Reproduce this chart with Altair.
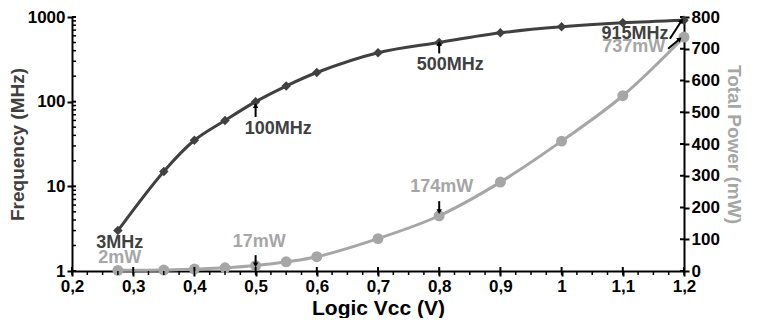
import altair as alt
import pandas as pd

# ---- data ----
vcc = [0.275, 0.35, 0.4, 0.45, 0.5, 0.55, 0.6, 0.7, 0.8, 0.9, 1.0, 1.1, 1.2]
freq_mhz = [3, 15, 35, 60, 100, 153, 221, 378, 500, 650, 766, 853, 915]
power_mw = [2, 3, 6, 10, 17, 29, 45, 102, 174, 280, 409, 552, 737]

freq_labels = ["3MHz", "100MHz", "500MHz", "915MHz"]
freq_label_x = [0.278, 0.537, 0.818, 1.12]
freq_label_y = [2.12, 48, 270, 628]

power_labels = ["2mW", "17mW", "174mW", "737mW"]
power_label_x = [0.278, 0.506, 0.804, 1.118]
power_label_y = [40, 92, 265, 706]

# arrows: tail (x, y) -> tip (x2, y2)
freq_arrow_x = [0.5, 0.8, 1.177]
freq_arrow_y = [66, 371, 553]
freq_arrow_x2 = [0.5, 0.8, 1.196]
freq_arrow_y2 = [89.5, 487, 902]
freq_arrow_angle = [0, 0, 34]

power_arrow_x = [0.5, 0.8, 1.174]
power_arrow_y = [50, 220, 700]
power_arrow_x2 = [0.5, 0.8, 1.193]
power_arrow_y2 = [19, 187, 731]
power_arrow_angle = [180, 180, 50]

x_major = [round(0.2 + 0.1 * i, 1) for i in range(11)]
x_minor = [0.2 + 0.025 * i for i in range(41)]
f_major = [1, 10, 100, 1000]
y_minor = [m * d for d in (1, 10, 100) for m in range(2, 10)]
p_major = list(range(0, 801, 100))

DARK = "#404040"
GRAY = "#a6a6a6"
FONT = "Liberation Sans"
W, H = 612, 254

df = pd.DataFrame({"v": vcc, "f": freq_mhz, "p": power_mw})
df_fl = pd.DataFrame({"t": freq_labels, "v": freq_label_x, "f": freq_label_y})
df_pl = pd.DataFrame({"t": power_labels, "v": power_label_x, "p": power_label_y})
df_fa = pd.DataFrame({"v": freq_arrow_x, "f": freq_arrow_y, "v2": freq_arrow_x2,
                      "f2": freq_arrow_y2, "a": freq_arrow_angle})
df_pa = pd.DataFrame({"v": power_arrow_x, "p": power_arrow_y, "v2": power_arrow_x2,
                      "p2": power_arrow_y2, "a": power_arrow_angle})
df_xm = pd.DataFrame({"v": x_minor})
df_xM = pd.DataFrame({"v": x_major})
df_ym = pd.DataFrame({"f": y_minor})
df_yM = pd.DataFrame({"f": f_major})
df_pM = pd.DataFrame({"p": p_major})

x_scale = alt.Scale(domain=[0.2, 1.2], nice=False, zero=False)
x_axis = alt.Axis(title="Logic Vcc (V)", values=x_major,
                  labelExpr="replace(toString(round(datum.value*10)/10), '.', ',')",
                  titleColor="black", titlePadding=3, titleFontSize=21, grid=False,
                  labelFlush=False)
f_scale = alt.Scale(type="log", domain=[1, 1000], nice=False)
f_axis = alt.Axis(title="Frequency (MHz)", values=f_major, format="d",
                  titleColor=DARK, orient="left", titlePadding=0, grid=False, labelFlush=False)
p_scale = alt.Scale(domain=[0, 800], nice=False, zero=True)
p_axis = alt.Axis(title="Total Power (mW)", values=p_major,
                  titleColor=GRAY, orient="right", titleAngle=90, titlePadding=4, grid=False,
                  labelFlush=False)


def X(field="v"):
    return alt.X(f"{field}:Q", scale=x_scale, axis=x_axis)


def YF(field="f"):
    return alt.Y(f"{field}:Q", scale=f_scale, axis=f_axis)


def YP(field="p"):
    return alt.Y(f"{field}:Q", scale=p_scale, axis=p_axis)


# frequency layers
f_line = alt.Chart(df).mark_line(color=DARK, strokeWidth=3, interpolate="catmull-rom").encode(x=X(), y=YF())
f_pts = alt.Chart(df).mark_point(shape="diamond", filled=True, size=90, color=DARK, opacity=1).encode(x=X(), y=YF())
f_txt = alt.Chart(df_fl).mark_text(font=FONT, fontWeight="bold", fontSize=18, color=DARK,
                                   baseline="middle", align="center").encode(x=X(), y=YF(), text="t:N")
f_ar = alt.Chart(df_fa).mark_rule(color="black", strokeWidth=2).encode(
    x=X(), y=YF(), x2=alt.X2("v2:Q"), y2=alt.Y2("f2:Q"))
f_head = alt.Chart(df_fa).mark_point(shape="triangle-up", filled=True, size=30, color="black", opacity=1).encode(
    x=X("v2"), y=YF("f2"), angle=alt.Angle("a:Q", scale=None))
x_min = alt.Chart(df_xm).mark_rule(color="black", strokeWidth=1.5).encode(
    x=X(), y=alt.value(H), y2=alt.value(H + 4))
x_maj_in = alt.Chart(df_xM).mark_rule(color="black", strokeWidth=2).encode(
    x=X(), y=alt.value(H - 4), y2=alt.value(H))
y_min = alt.Chart(df_ym).mark_rule(color="black", strokeWidth=1.5).encode(
    y=YF(), x=alt.value(0), x2=alt.value(4))
y_maj_in = alt.Chart(df_yM).mark_rule(color="black", strokeWidth=2).encode(
    y=YF(), x=alt.value(0), x2=alt.value(4))

freq = alt.layer(x_min, x_maj_in, y_min, y_maj_in, f_line, f_pts, f_ar, f_head, f_txt)

# power layers
p_line = alt.Chart(df).mark_line(color=GRAY, strokeWidth=3, interpolate="catmull-rom").encode(x=X(), y=YP())
p_pts = alt.Chart(df).mark_circle(size=120, color=GRAY, opacity=1).encode(x=X(), y=YP())
p_txt = alt.Chart(df_pl).mark_text(font=FONT, fontWeight="bold", fontSize=18, color=GRAY,
                                   baseline="middle", align="center").encode(x=X(), y=YP(), text="t:N")
p_ar = alt.Chart(df_pa).mark_rule(color="black", strokeWidth=2).encode(
    x=X(), y=YP(), x2=alt.X2("v2:Q"), y2=alt.Y2("p2:Q"))
p_head = alt.Chart(df_pa).mark_point(shape="triangle-up", filled=True, size=30, color="black", opacity=1).encode(
    x=X("v2"), y=YP("p2"), angle=alt.Angle("a:Q", scale=None))
p_maj_in = alt.Chart(df_pM).mark_rule(color="black", strokeWidth=2).encode(
    y=YP(), x=alt.value(W - 4), x2=alt.value(W))

power = alt.layer(p_maj_in, p_line, p_pts, p_ar, p_head, p_txt)

chart = alt.layer(power, freq).resolve_scale(y="independent").properties(
    width=W, height=H, background="white", padding=0
).configure_view(stroke=None).configure_axis(
    labelFont=FONT, labelFontSize=17, labelFontWeight="bold", labelColor="black",
    titleFont=FONT, titleFontSize=19, titleFontWeight="bold",
    domainColor="black", domainWidth=2, tickColor="black", tickWidth=2, tickSize=5,
    labelPadding=2, grid=False,
)

chart.save("out.html", embed_options={"renderer": "svg", "actions": False})
